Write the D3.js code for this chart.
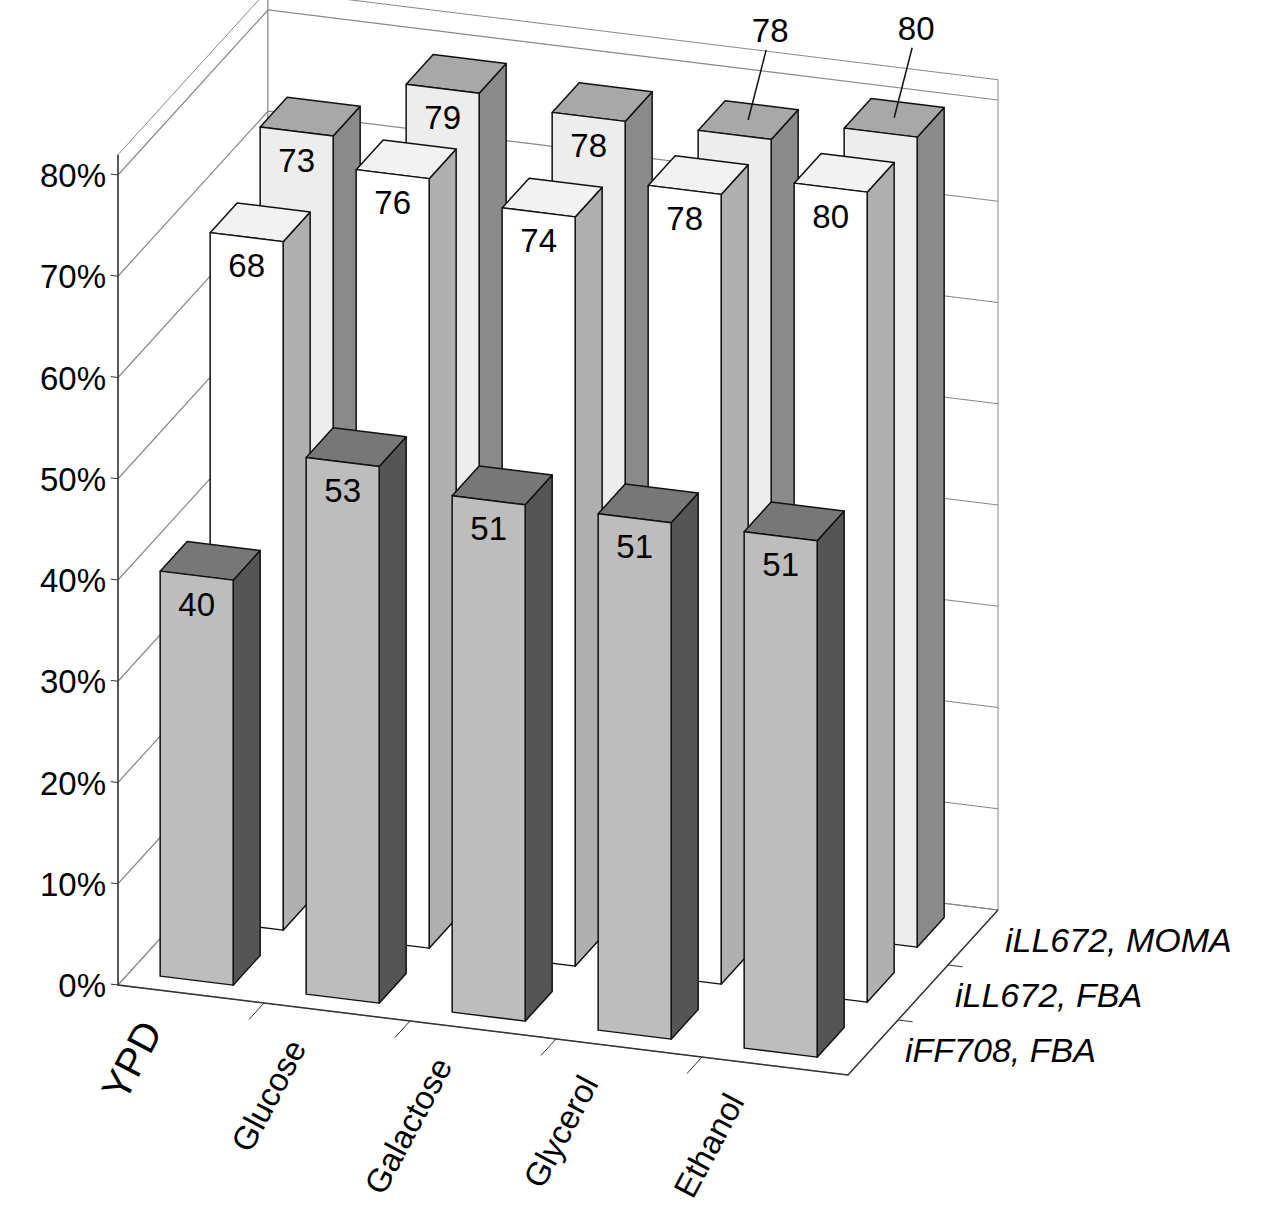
<!DOCTYPE html>
<html><head><meta charset="utf-8">
<script src="https://cdn.jsdelivr.net/npm/d3@7"></script>
<style>body{margin:0;background:#fff}</style>
</head><body><div id="root"></div>
<script>
const categories = ["YPD", "Glucose", "Galactose", "Glycerol", "Ethanol"];
const seriesNames = ["iFF708, FBA", "iLL672, FBA", "iLL672, MOMA"];
const iFF708FBA = [40, 53, 51, 51, 51];
const iLL672FBA = [68, 76, 74, 78, 80];
const iLL672MOMA = [73, 79, 78, 78, 80];
const yTicks = [0, 10, 20, 30, 40, 50, 60, 70, 80];
const seriesValues = [iFF708FBA, iLL672FBA, iLL672MOMA];

const W = 1280, H = 1227;
const svg = d3.select("#root").append("svg").attr("width", W).attr("height", H);

// oblique projection: category axis, depth axis, value axis
const cx = d3.scaleLinear().domain([0, 5]).range([0, 730]);
const cy = d3.scaleLinear().domain([0, 5]).range([0, 90]);
const dx = d3.scaleLinear().domain([0, 3]).range([0, 150]);
const dy = d3.scaleLinear().domain([0, 3]).range([0, -165]);
const vy = d3.scaleLinear().domain([0, 80]).range([0, -810]);
const ox = 118, oy = 985;
const P = (c, d, v) => [ox + cx(c) + dx(d), oy + cy(c) + dy(d) + vy(v)];
const poly = pts => "M" + pts.map(p => p.join(",")).join("L") + "Z";
const vmax = 82;
const font = "Arial, Liberation Sans";

const g = svg.append("g");
// walls
g.append("path").attr("d", poly([P(0,0,0), P(0,3,0), P(0,3,vmax), P(0,0,vmax)])).attr("fill", "#fff").attr("stroke", "#888");
g.append("path").attr("d", poly([P(0,3,0), P(5,3,0), P(5,3,vmax), P(0,3,vmax)])).attr("fill", "#fff").attr("stroke", "#888");
g.append("path").attr("d", poly([P(0,0,0), P(5,0,0), P(5,3,0), P(0,3,0)])).attr("fill", "#fff").attr("stroke", "#888");
yTicks.forEach(t => {
  const a = P(0,0,t), b = P(0,3,t), c = P(5,3,t);
  g.append("path").attr("d", `M${a}L${b}L${c}`).attr("fill", "none").attr("stroke", "#888").attr("stroke-width", 1.2);
  const k = P(-0.05, 0, t);
  g.append("line").attr("x1", a[0]).attr("y1", a[1]).attr("x2", k[0]).attr("y2", k[1]).attr("stroke", "#333");
  g.append("text").attr("x", a[0] - 12).attr("y", a[1] + 12).attr("text-anchor", "end")
    .attr("font-family", font).attr("font-size", 33).text(t + "%");
});
// axis ticks
d3.range(1, 5).forEach(i => {
  const a = P(i,0,0), b = P(i,-0.3,0);
  g.append("line").attr("x1", a[0]).attr("y1", a[1]).attr("x2", b[0]).attr("y2", b[1]).attr("stroke", "#333");
});
d3.range(1, 3).forEach(j => {
  const a = P(5,j,0), b = P(5.1,j,0);
  g.append("line").attr("x1", a[0]).attr("y1", a[1]).attr("x2", b[0]).attr("y2", b[1]).attr("stroke", "#333");
});
g.append("path").attr("d", `M${P(0,0,vmax)}L${P(0,0,0)}L${P(5,0,0)}L${P(5,3,0)}`).attr("fill", "none").attr("stroke", "#333").attr("stroke-width", 1.5);

const colors = [
  {front: "#bdbdbd", side: "#555", top: "#777"},
  {front: "#fff", side: "#b0b0b0", top: "#f2f2f2"},
  {front: "#ededed", side: "#8a8a8a", top: "#a8a8a8"}
];
const w = 0.25, dd = 0.27;
for (let j = 2; j >= 0; j--) {
  seriesValues[j].forEach((v, i) => {
    const c0 = i + 0.46 - w, c1 = i + 0.46 + w, d0 = j + 0.5 - dd, d1 = j + 0.5 + dd;
    const col = colors[j];
    const bar = g.append("g").attr("stroke", "#111").attr("stroke-width", 1.5).attr("stroke-linejoin", "round");
    bar.append("path").attr("d", poly([P(c1,d0,0), P(c1,d1,0), P(c1,d1,v), P(c1,d0,v)])).attr("fill", col.side);
    bar.append("path").attr("d", poly([P(c0,d0,v), P(c1,d0,v), P(c1,d1,v), P(c0,d1,v)])).attr("fill", col.top);
    bar.append("path").attr("d", poly([P(c0,d0,0), P(c1,d0,0), P(c1,d0,v), P(c0,d0,v)])).attr("fill", col.front);
    const hidden = j === 2 && i >= 3;
    if (hidden) {
      const t = P(i + 0.46, j + 0.5, v), lt = [t[0] + 18, t[1] - 70];
      g.append("line").attr("x1", t[0]).attr("y1", t[1]).attr("x2", lt[0]).attr("y2", lt[1]).attr("stroke", "#111").attr("stroke-width", 1.5);
      g.append("text").attr("x", lt[0] + 4).attr("y", lt[1] - 8).attr("text-anchor", "middle")
        .attr("font-family", font).attr("font-size", 33).text(v);
    } else {
      const t = P(i + 0.46, d0, v);
      g.append("text").attr("x", t[0]).attr("y", t[1] + 40).attr("text-anchor", "middle")
        .attr("font-family", font).attr("font-size", 33).text(v);
    }
  });
}
// category labels
categories.forEach((c, i) => {
  const p = P(i + 0.5, 0, 0);
  g.append("text").attr("transform", `translate(${p[0] - 40},${p[1] + 30}) rotate(-62)`)
    .attr("text-anchor", "end").attr("dy", "0.35em")
    .attr("font-family", font).attr("font-size", i === 0 ? 40 : 33).text(c);
});
// series labels
seriesNames.forEach((s, j) => {
  const p = P(5, j + 0.5, 0);
  g.append("text").attr("x", p[0] + 32).attr("y", p[1] + 14)
    .attr("font-family", font).attr("font-style", "italic").attr("font-size", 34).text(s);
});
</script></body></html>
